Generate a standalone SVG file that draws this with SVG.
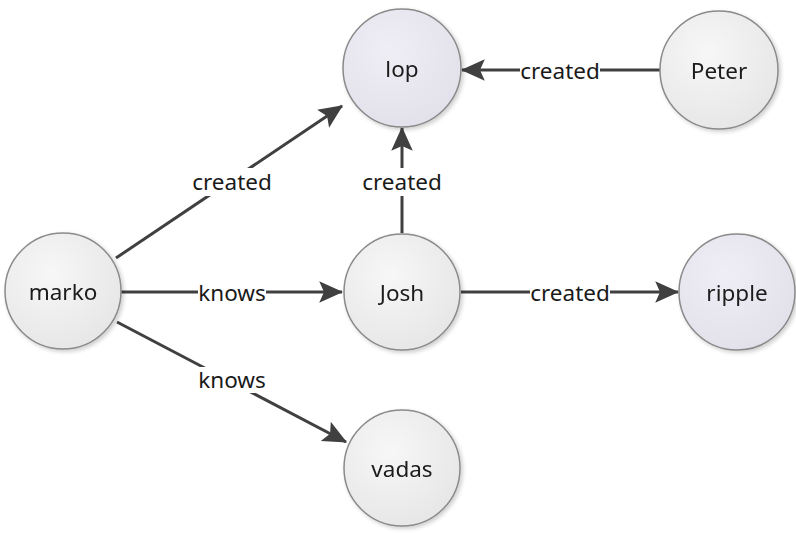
<svg xmlns="http://www.w3.org/2000/svg" width="796" height="534" viewBox="0 0 796 534">
<style>
.edge{stroke:#404040;stroke-width:3;fill:none}
.lbl{font-family:"Noto Sans","Open Sans",sans-serif;font-size:22.5px;fill:#1a1a1a;text-anchor:middle;dominant-baseline:central}
.nl{font-family:"Noto Sans","Open Sans",sans-serif;font-size:22.5px;fill:#1a1a1a;text-anchor:middle;dominant-baseline:central}
.bg{fill:#fff}
.g{fill:url(#gg);stroke:#8a8a8a;stroke-width:1.5}
.p{fill:url(#gp);stroke:#8a8a8a;stroke-width:1.5}
</style>
<defs>
<radialGradient id="gg" cx="0.4" cy="0.35" r="0.7">
<stop offset="0" stop-color="#f7f7f7"/><stop offset="1" stop-color="#e6e6e6"/>
</radialGradient>
<radialGradient id="gp" cx="0.4" cy="0.35" r="0.7">
<stop offset="0" stop-color="#efeef5"/><stop offset="1" stop-color="#e2e0ea"/>
</radialGradient>
<filter id="sh" x="-20%" y="-20%" width="150%" height="150%">
<feGaussianBlur in="SourceAlpha" stdDeviation="2"/><feOffset dx="1.5" dy="2"/>
<feComponentTransfer><feFuncA type="linear" slope="0.2"/></feComponentTransfer>
<feMerge><feMergeNode/><feMergeNode in="SourceGraphic"/></feMerge>
</filter>
<marker id="ah" viewBox="0 0 10 10" refX="9.5" refY="5" markerWidth="8" markerHeight="8" markerUnits="strokeWidth" orient="auto">
<path d="M0,0.5 L10,5 L0,9.5 L2,5 Z" fill="#404040"/>
</marker>
</defs>
<g id="connectors">
<line class="edge" x1="116" y1="258" x2="342" y2="106" marker-end="url(#ah)"/>
<rect class="bg" x="193" y="168" width="78" height="28"/>
<text class="lbl" x="232" y="181">created</text>
<line class="edge" x1="121" y1="292" x2="342" y2="292" marker-end="url(#ah)"/>
<rect class="bg" x="198" y="280" width="68" height="26"/>
<text class="lbl" x="232" y="292">knows</text>
<line class="edge" x1="117" y1="322" x2="346" y2="442" marker-end="url(#ah)"/>
<rect class="bg" x="198" y="367" width="68" height="26"/>
<text class="lbl" x="232" y="379">knows</text>
<line class="edge" x1="402" y1="233" x2="402" y2="128" marker-end="url(#ah)"/>
<rect class="bg" x="363" y="168" width="78" height="28"/>
<text class="lbl" x="402" y="181">created</text>
<line class="edge" x1="660" y1="70" x2="462" y2="70" marker-end="url(#ah)"/>
<rect class="bg" x="520" y="57" width="80" height="28"/>
<text class="lbl" x="560" y="70">created</text>
<line class="edge" x1="461" y1="292" x2="678" y2="292" marker-end="url(#ah)"/>
<rect class="bg" x="530" y="279" width="80" height="28"/>
<text class="lbl" x="570" y="292">created</text>
</g>
<g id="lop" filter="url(#sh)"><circle class="p" cx="402" cy="68" r="59"/><text class="nl" x="402" y="68">lop</text></g>
<g id="peter" filter="url(#sh)"><circle class="g" cx="719" cy="70" r="59"/><text class="nl" x="719" y="70">Peter</text></g>
<g id="marko" filter="url(#sh)"><circle class="g" cx="63" cy="291" r="58"/><text class="nl" x="63" y="291">marko</text></g>
<g id="josh" filter="url(#sh)"><circle class="g" cx="402" cy="292" r="58"/><text class="nl" x="402" y="292">Josh</text></g>
<g id="ripple" filter="url(#sh)"><circle class="p" cx="737" cy="292" r="58"/><text class="nl" x="737" y="292">ripple</text></g>
<g id="vadas" filter="url(#sh)"><circle class="g" cx="402" cy="468" r="58"/><text class="nl" x="402" y="468">vadas</text></g>
</svg>
